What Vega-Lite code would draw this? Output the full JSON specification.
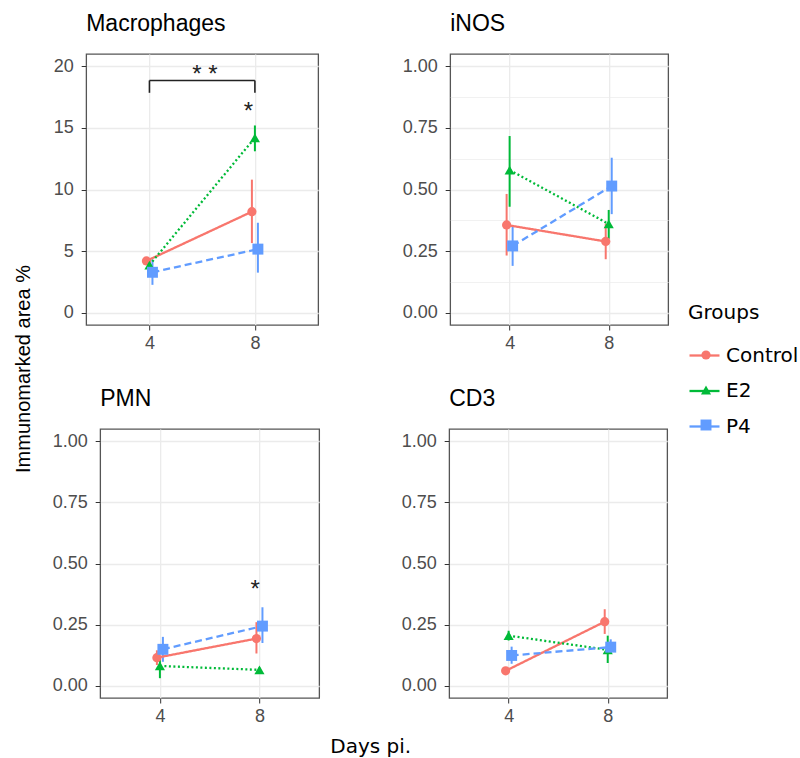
{
  "$schema": "https://vega.github.io/schema/vega-lite/v6.json",
  "padding": {"left": 14, "top": 12, "right": 0, "bottom": 5},
  "background": "white",
  "datasets": {
    "obs": [
      {"Panel": "Macrophages", "Group": "Control", "Day": "4", "mean": 4.2, "lo": 4.0, "hi": 4.4},
      {"Panel": "Macrophages", "Group": "Control", "Day": "8", "mean": 8.2, "lo": 5.65, "hi": 10.8},
      {"Panel": "Macrophages", "Group": "E2", "Day": "4", "mean": 3.87, "lo": 3.5, "hi": 4.3},
      {"Panel": "Macrophages", "Group": "E2", "Day": "8", "mean": 14.2, "lo": 13.1, "hi": 15.2},
      {"Panel": "Macrophages", "Group": "P4", "Day": "4", "mean": 3.28, "lo": 2.26, "hi": 4.3},
      {"Panel": "Macrophages", "Group": "P4", "Day": "8", "mean": 5.16, "lo": 3.25, "hi": 7.3},
      {"Panel": "iNOS", "Group": "Control", "Day": "4", "mean": 0.356, "lo": 0.232, "hi": 0.482},
      {"Panel": "iNOS", "Group": "Control", "Day": "8", "mean": 0.289, "lo": 0.217, "hi": 0.361},
      {"Panel": "iNOS", "Group": "E2", "Day": "4", "mean": 0.579, "lo": 0.43, "hi": 0.717},
      {"Panel": "iNOS", "Group": "E2", "Day": "8", "mean": 0.36, "lo": 0.3, "hi": 0.417},
      {"Panel": "iNOS", "Group": "P4", "Day": "4", "mean": 0.271, "lo": 0.19, "hi": 0.35},
      {"Panel": "iNOS", "Group": "P4", "Day": "8", "mean": 0.514, "lo": 0.4, "hi": 0.629},
      {"Panel": "PMN", "Group": "Control", "Day": "4", "mean": 0.115, "lo": 0.085, "hi": 0.145},
      {"Panel": "PMN", "Group": "Control", "Day": "8", "mean": 0.193, "lo": 0.132, "hi": 0.26},
      {"Panel": "PMN", "Group": "E2", "Day": "4", "mean": 0.081, "lo": 0.031, "hi": 0.12},
      {"Panel": "PMN", "Group": "E2", "Day": "8", "mean": 0.065, "lo": 0.055, "hi": 0.075},
      {"Panel": "PMN", "Group": "P4", "Day": "4", "mean": 0.149, "lo": 0.098, "hi": 0.2},
      {"Panel": "PMN", "Group": "P4", "Day": "8", "mean": 0.244, "lo": 0.175, "hi": 0.321},
      {"Panel": "CD3", "Group": "Control", "Day": "4", "mean": 0.061, "lo": 0.05, "hi": 0.07},
      {"Panel": "CD3", "Group": "Control", "Day": "8", "mean": 0.262, "lo": 0.212, "hi": 0.313},
      {"Panel": "CD3", "Group": "E2", "Day": "4", "mean": 0.205, "lo": 0.185, "hi": 0.225},
      {"Panel": "CD3", "Group": "E2", "Day": "8", "mean": 0.147, "lo": 0.093, "hi": 0.205},
      {"Panel": "CD3", "Group": "P4", "Day": "4", "mean": 0.124, "lo": 0.09, "hi": 0.16},
      {"Panel": "CD3", "Group": "P4", "Day": "8", "mean": 0.158, "lo": 0.13, "hi": 0.19}
    ],
    "brackets": [
      {"x": 4, "x2": 8, "y": 18.85, "y2": 18.85},
      {"x": 4, "x2": 4, "y": 17.85, "y2": 18.85},
      {"x": 8, "x2": 8, "y": 17.85, "y2": 18.85}
    ],
    "stars": [
      {"Panel": "Macrophages", "x": 6.1, "y": 19.3, "label": "* *"},
      {"Panel": "Macrophages", "x": 7.75, "y": 16.3, "label": "*"},
      {"Panel": "PMN", "x": 7.83, "y": 0.393, "label": "*"}
    ]
  },
  "title": {"text": "Days pi.", "orient": "bottom", "anchor": "middle", "frame": "bounds", "font": "DejaVu Sans", "fontSize": 20, "fontWeight": "normal", "offset": 11, "dx": -36},
  "vconcat": [
    {
      "title": {"text": "Immunomarked area %", "orient": "left", "anchor": "middle", "frame": "bounds", "font": "Liberation Sans", "fontSize": 20, "fontWeight": "normal", "offset": 17},
      "spacing": 34,
      "center": true,
      "vconcat": [
        {
          "spacing": 82,
          "hconcat": [
            {
              "width": 232, "height": 271,
              "title": {"text": "Macrophages"},
              "layer": [
                {
                  "data": {"name": "obs"},
                  "transform": [{"filter": "datum.Panel === 'Macrophages'"}],
                  "encoding": {
                    "x": {"field": "Day", "type": "ordinal", "scale": {"type": "point", "padding": 0.6}, "axis": {"title": null, "labelAngle": 0, "grid": true, "gridColor": "#EBEBEB", "gridWidth": 1.3}},
                    "xOffset": {"field": "Group", "type": "nominal", "scale": {"type": "point", "range": [-4.5, 4.5]}}
                  },
                  "layer": [
                    {"mark": {"type": "rule", "strokeWidth": 2},
                     "encoding": {
                       "y": {"field": "lo", "type": "quantitative", "scale": {"domain": [-1, 21], "nice": false, "zero": false},
                             "axis": {"title": null, "values": [0, 2.5, 5, 7.5, 10, 12.5, 15, 17.5, 20], "labelExpr": "datum.value % 5 === 0 ? format(datum.value, 'd') : ''", "labelOverlap": false, "grid": true, "gridColor": "#EBEBEB",
                                      "gridWidth": {"condition": {"test": "datum.value % 5 !== 0", "value": 0.7}, "value": 1.3},
                                      "tickOpacity": {"condition": {"test": "datum.value % 5 !== 0", "value": 0}, "value": 1}}},
                       "y2": {"field": "hi"},
                       "stroke": {"field": "Group", "type": "nominal", "scale": {"range": ["#F8766D", "#00BA38", "#619CFF"]}}
                     }},
                    {"mark": {"type": "line", "strokeWidth": 2.3},
                     "encoding": {
                       "y": {"field": "mean", "type": "quantitative", "scale": {"domain": [-1, 21], "nice": false, "zero": false}},
                       "stroke": {"field": "Group", "type": "nominal", "scale": {"range": ["#F8766D", "#00BA38", "#619CFF"]},
                                  "legend": {"orient": "none", "legendX": 602, "legendY": 249, "zindex": 1, "title": "Groups", "symbolType": "stroke", "symbolSize": 900, "symbolStrokeWidth": 2.3, "rowPadding": 8.5, "labelOffset": 5, "labelFont": "DejaVu Sans", "labelFontSize": 20, "labelColor": "#000", "titleFont": "DejaVu Sans", "titleFontSize": 20, "titleFontWeight": "normal", "titleColor": "#000", "titlePadding": 16}},
                       "strokeDash": {"field": "Group", "type": "nominal", "scale": {"domain": ["P4", "E2", "Control"], "range": [[7, 4], [2, 2.5], [1, 0]]}, "legend": null}
                     }},
                    {"mark": {"type": "point", "filled": true, "opacity": 1, "strokeWidth": 0},
                     "encoding": {
                       "y": {"field": "mean", "type": "quantitative", "scale": {"domain": [-1, 21], "nice": false, "zero": false}},
                       "fill": {"field": "Group", "type": "nominal", "scale": {"domain": ["Control", "E2", "P4"], "range": ["#F8766D", "#00BA38", "#619CFF"]},
                                "legend": {"orient": "none", "legendX": 602, "legendY": 255, "zindex": 2, "title": "Groups", "titleOpacity": 0, "labelOpacity": 0, "symbolStrokeWidth": 0, "symbolOffset": 8, "rowPadding": 15, "labelOffset": 5, "labelFont": "DejaVu Sans", "labelFontSize": 20, "titleFont": "DejaVu Sans", "titleFontSize": 20, "titleFontWeight": "normal", "titlePadding": 16}},
                       "shape": {"field": "Group", "type": "nominal", "scale": {"domain": ["Control", "E2", "P4"], "range": ["circle", "triangle-up", "square"]}},
                       "size": {"field": "Group", "type": "nominal", "scale": {"domain": ["Control", "E2", "P4"], "range": [85, 120, 90]}}
                     }}
                  ]
                },
                {
                  "layer": [
                    {"data": {"name": "brackets"},
                     "mark": {"type": "rule", "color": "#222222", "strokeWidth": 1.6},
                     "encoding": {
                       "x": {"field": "x", "type": "quantitative", "scale": {"domain": [1.6, 10.4], "nice": false, "zero": false}, "axis": null},
                       "x2": {"field": "x2"},
                       "y": {"field": "y", "type": "quantitative", "scale": {"domain": [-1, 21], "nice": false, "zero": false}},
                       "y2": {"field": "y2"}
                     }},
                    {"data": {"name": "stars"},
                     "transform": [{"filter": "datum.Panel === 'Macrophages'"}],
                     "mark": {"type": "text", "font": "Liberation Sans", "fontSize": 24, "baseline": "middle", "align": "center", "color": "#222222"},
                     "encoding": {
                       "x": {"field": "x", "type": "quantitative", "scale": {"domain": [1.6, 10.4], "nice": false, "zero": false}, "axis": null},
                       "y": {"field": "y", "type": "quantitative", "scale": {"domain": [-1, 21], "nice": false, "zero": false}},
                       "text": {"field": "label"}
                     }}
                  ]
                }
              ],
              "resolve": {"scale": {"x": "independent"}}
            },
            {
              "width": 218, "height": 271,
              "title": {"text": "iNOS"},
              "data": {"name": "obs"},
              "transform": [{"filter": "datum.Panel === 'iNOS'"}],
              "encoding": {
                "x": {"field": "Day", "type": "ordinal", "scale": {"type": "point", "padding": 0.6}, "axis": {"title": null, "labelAngle": 0, "grid": true, "gridColor": "#EBEBEB", "gridWidth": 1.3}},
                "xOffset": {"field": "Group", "type": "nominal", "scale": {"type": "point", "range": [-4.5, 4.5]}}
              },
              "layer": [
                {"mark": {"type": "rule", "strokeWidth": 2},
                 "encoding": {
                   "y": {"field": "lo", "type": "quantitative", "scale": {"domain": [-0.05, 1.05], "nice": false, "zero": false},
                         "axis": {"orient": "left", "title": null, "values": [0, 0.125, 0.25, 0.375, 0.5, 0.625, 0.75, 0.875, 1], "labelExpr": "round(datum.value*8) % 2 === 1 ? '' : format(datum.value, '.2f')", "labelOverlap": false, "grid": true, "gridColor": "#EBEBEB",
                                  "gridWidth": {"condition": {"test": "round(datum.value*8) % 2 === 1", "value": 0.7}, "value": 1.3},
                                  "tickOpacity": {"condition": {"test": "round(datum.value*8) % 2 === 1", "value": 0}, "value": 1}}},
                   "y2": {"field": "hi"},
                   "stroke": {"field": "Group", "type": "nominal", "scale": {"range": ["#F8766D", "#00BA38", "#619CFF"]}}
                 }},
                {"mark": {"type": "line", "strokeWidth": 2.3},
                 "encoding": {
                   "y": {"field": "mean", "type": "quantitative", "scale": {"domain": [-0.05, 1.05], "nice": false, "zero": false}, "axis": null},
                   "stroke": {"field": "Group", "type": "nominal", "scale": {"range": ["#F8766D", "#00BA38", "#619CFF"]}},
                   "strokeDash": {"field": "Group", "type": "nominal", "scale": {"domain": ["P4", "E2", "Control"], "range": [[7, 4], [2, 2.5], [1, 0]]}, "legend": null}
                 }},
                {"mark": {"type": "point", "filled": true, "opacity": 1, "strokeWidth": 0},
                 "encoding": {
                   "y": {"field": "mean", "type": "quantitative", "scale": {"domain": [-0.05, 1.05], "nice": false, "zero": false},
                         "axis": {"orient": "right", "title": null, "values": [1], "labelExpr": "''", "ticks": false, "domain": false, "grid": false, "labelPadding": 13}},
                   "fill": {"field": "Group", "type": "nominal", "scale": {"domain": ["Control", "E2", "P4"], "range": ["#F8766D", "#00BA38", "#619CFF"]}},
                   "shape": {"field": "Group", "type": "nominal", "scale": {"domain": ["Control", "E2", "P4"], "range": ["circle", "triangle-up", "square"]}},
                   "size": {"field": "Group", "type": "nominal", "scale": {"domain": ["Control", "E2", "P4"], "range": [85, 120, 90]}}
                 }}
              ],
              "resolve": {"axis": {"y": "independent"}}
            }
          ]
        },
        {
          "spacing": 80,
          "hconcat": [
            {
              "width": 219, "height": 269,
              "title": {"text": "PMN"},
              "layer": [
                {
                  "data": {"name": "obs"},
                  "transform": [{"filter": "datum.Panel === 'PMN'"}],
                  "encoding": {
                    "x": {"field": "Day", "type": "ordinal", "scale": {"type": "point", "padding": 0.6}, "axis": {"title": null, "labelAngle": 0, "grid": true, "gridColor": "#EBEBEB", "gridWidth": 1.3}},
                    "xOffset": {"field": "Group", "type": "nominal", "scale": {"type": "point", "range": [-4.5, 4.5]}}
                  },
                  "layer": [
                    {"mark": {"type": "rule", "strokeWidth": 2},
                     "encoding": {
                       "y": {"field": "lo", "type": "quantitative", "scale": {"domain": [-0.05, 1.05], "nice": false, "zero": false},
                             "axis": {"title": null, "values": [0, 0.125, 0.25, 0.375, 0.5, 0.625, 0.75, 0.875, 1], "labelExpr": "round(datum.value*8) % 2 === 1 ? '' : format(datum.value, '.2f')", "labelOverlap": false, "grid": true, "gridColor": "#EBEBEB",
                                      "gridWidth": {"condition": {"test": "round(datum.value*8) % 2 === 1", "value": 0.7}, "value": 1.3},
                                      "tickOpacity": {"condition": {"test": "round(datum.value*8) % 2 === 1", "value": 0}, "value": 1}}},
                       "y2": {"field": "hi"},
                       "stroke": {"field": "Group", "type": "nominal", "scale": {"range": ["#F8766D", "#00BA38", "#619CFF"]}}
                     }},
                    {"mark": {"type": "line", "strokeWidth": 2.3},
                     "encoding": {
                       "y": {"field": "mean", "type": "quantitative", "scale": {"domain": [-0.05, 1.05], "nice": false, "zero": false}},
                       "stroke": {"field": "Group", "type": "nominal", "scale": {"range": ["#F8766D", "#00BA38", "#619CFF"]}},
                       "strokeDash": {"field": "Group", "type": "nominal", "scale": {"domain": ["P4", "E2", "Control"], "range": [[7, 4], [2, 2.5], [1, 0]]}, "legend": null}
                     }},
                    {"mark": {"type": "point", "filled": true, "opacity": 1, "strokeWidth": 0},
                     "encoding": {
                       "y": {"field": "mean", "type": "quantitative", "scale": {"domain": [-0.05, 1.05], "nice": false, "zero": false}},
                       "fill": {"field": "Group", "type": "nominal", "scale": {"domain": ["Control", "E2", "P4"], "range": ["#F8766D", "#00BA38", "#619CFF"]}},
                       "shape": {"field": "Group", "type": "nominal", "scale": {"domain": ["Control", "E2", "P4"], "range": ["circle", "triangle-up", "square"]}},
                       "size": {"field": "Group", "type": "nominal", "scale": {"domain": ["Control", "E2", "P4"], "range": [85, 120, 90]}}
                     }}
                  ]
                },
                {
                  "data": {"name": "stars"},
                  "transform": [{"filter": "datum.Panel === 'PMN'"}],
                  "mark": {"type": "text", "font": "Liberation Sans", "fontSize": 24, "baseline": "middle", "align": "center", "color": "#222222"},
                  "encoding": {
                    "x": {"field": "x", "type": "quantitative", "scale": {"domain": [1.6, 10.4], "nice": false, "zero": false}, "axis": null},
                    "y": {"field": "y", "type": "quantitative", "scale": {"domain": [-0.05, 1.05], "nice": false, "zero": false}},
                    "text": {"field": "label"}
                  }
                }
              ],
              "resolve": {"scale": {"x": "independent"}}
            },
            {
              "width": 218, "height": 269,
              "title": {"text": "CD3"},
              "data": {"name": "obs"},
              "transform": [{"filter": "datum.Panel === 'CD3'"}],
              "encoding": {
                "x": {"field": "Day", "type": "ordinal", "scale": {"type": "point", "padding": 0.6}, "axis": {"title": null, "labelAngle": 0, "grid": true, "gridColor": "#EBEBEB", "gridWidth": 1.3}},
                "xOffset": {"field": "Group", "type": "nominal", "scale": {"type": "point", "range": [-4.5, 4.5]}}
              },
              "layer": [
                {"mark": {"type": "rule", "strokeWidth": 2},
                 "encoding": {
                   "y": {"field": "lo", "type": "quantitative", "scale": {"domain": [-0.05, 1.05], "nice": false, "zero": false},
                         "axis": {"title": null, "values": [0, 0.125, 0.25, 0.375, 0.5, 0.625, 0.75, 0.875, 1], "labelExpr": "round(datum.value*8) % 2 === 1 ? '' : format(datum.value, '.2f')", "labelOverlap": false, "grid": true, "gridColor": "#EBEBEB",
                                  "gridWidth": {"condition": {"test": "round(datum.value*8) % 2 === 1", "value": 0.7}, "value": 1.3},
                                  "tickOpacity": {"condition": {"test": "round(datum.value*8) % 2 === 1", "value": 0}, "value": 1}}},
                   "y2": {"field": "hi"},
                   "stroke": {"field": "Group", "type": "nominal", "scale": {"range": ["#F8766D", "#00BA38", "#619CFF"]}}
                 }},
                {"mark": {"type": "line", "strokeWidth": 2.3},
                 "encoding": {
                   "y": {"field": "mean", "type": "quantitative", "scale": {"domain": [-0.05, 1.05], "nice": false, "zero": false}},
                   "stroke": {"field": "Group", "type": "nominal", "scale": {"range": ["#F8766D", "#00BA38", "#619CFF"]}},
                   "strokeDash": {"field": "Group", "type": "nominal", "scale": {"domain": ["P4", "E2", "Control"], "range": [[7, 4], [2, 2.5], [1, 0]]}, "legend": null}
                 }},
                {"mark": {"type": "point", "filled": true, "opacity": 1, "strokeWidth": 0},
                 "encoding": {
                   "y": {"field": "mean", "type": "quantitative", "scale": {"domain": [-0.05, 1.05], "nice": false, "zero": false}},
                   "fill": {"field": "Group", "type": "nominal", "scale": {"domain": ["Control", "E2", "P4"], "range": ["#F8766D", "#00BA38", "#619CFF"]}},
                   "shape": {"field": "Group", "type": "nominal", "scale": {"domain": ["Control", "E2", "P4"], "range": ["circle", "triangle-up", "square"]}},
                   "size": {"field": "Group", "type": "nominal", "scale": {"domain": ["Control", "E2", "P4"], "range": [85, 120, 90]}}
                 }}
              ]
            }
          ]
        }
      ]
    }
  ],
  "config": {
    "view": {"stroke": "#555555", "strokeWidth": 1.3},
    "axis": {"labelFont": "Liberation Sans", "labelFontSize": 18, "labelColor": "#4D4D4D", "tickColor": "#333333", "tickSize": 5, "domain": false},
    "axisX": {"labelPadding": 4},
    "axisY": {"labelPadding": 8},
    "title": {"font": "Liberation Sans", "fontSize": 23, "fontWeight": "normal", "anchor": "start", "frame": "group", "color": "#000000", "offset": 18}
  }
}
